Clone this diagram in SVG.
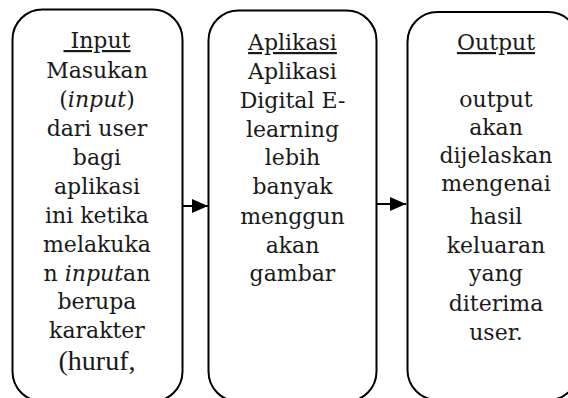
<svg xmlns="http://www.w3.org/2000/svg" width="568" height="398" viewBox="0 0 568 398">
<style>
.box{fill:#fff;stroke:#000;stroke-width:2}
.t{font-family:"DejaVu Serif","Liberation Serif",serif;font-size:22px;fill:#1a1a1a;text-anchor:middle}
.u{text-decoration:underline}
.big{font-family:"Liberation Serif","DejaVu Serif",serif;font-size:28px}
.conn{stroke:#000;stroke-width:2;fill:none}
</style>
<defs>
<marker id="ah" viewBox="0 0 16 14" refX="16" refY="7" markerWidth="16" markerHeight="14" markerUnits="userSpaceOnUse" orient="auto">
<path d="M0,0 L16,7 L0,14 Z" fill="#000"/>
</marker>
</defs>
<rect width="568" height="398" fill="#fff"/>
<g id="connectors">
<line class="conn" x1="182" y1="206" x2="208" y2="206" marker-end="url(#ah)"/>
<line class="conn" x1="377" y1="204" x2="406" y2="204" marker-end="url(#ah)"/>
</g>
<g id="node-input">
<rect class="box" x="12.5" y="9.5" width="170" height="392" rx="30" ry="30"/>
<text class="t" x="97" y="48"><tspan class="u" xml:space="preserve"> Input</tspan></text>
<text class="t" x="97" y="78">Masukan</text>
<text class="t" x="97" y="107">(<tspan font-style="italic">input</tspan>)</text>
<text class="t" x="97" y="136">dari user</text>
<text class="t" x="97" y="165">bagi</text>
<text class="t" x="97" y="194">aplikasi</text>
<text class="t" x="97" y="223">ini ketika</text>
<text class="t" x="97" y="252">melakuka</text>
<text class="t" x="97" y="281">n <tspan font-style="italic">input</tspan>an</text>
<text class="t" x="97" y="309">berupa</text>
<text class="t" x="97" y="338">karakter</text>
<text class="t big" x="97" y="370">(huruf,</text>
</g>
<g id="node-aplikasi">
<rect class="box" x="208.5" y="10.5" width="168" height="391" rx="30" ry="30"/>
<text class="t u" x="292.5" y="50">Aplikasi</text>
<text class="t" x="292.5" y="79">Aplikasi</text>
<text class="t" x="292.5" y="108">Digital E-</text>
<text class="t" x="292.5" y="137">learning</text>
<text class="t" x="292.5" y="165">lebih</text>
<text class="t" x="292.5" y="194">banyak</text>
<text class="t" x="292.5" y="224">menggun</text>
<text class="t" x="292.5" y="253">akan</text>
<text class="t" x="292.5" y="281">gambar</text>
</g>
<g id="node-output">
<rect class="box" x="407.5" y="12" width="171" height="388" rx="30" ry="30"/>
<text class="t u" x="496" y="50">Output</text>
<text class="t" x="496" y="107">output</text>
<text class="t" x="496" y="135">akan</text>
<text class="t" x="496" y="163">dijelaskan</text>
<text class="t" x="496" y="191">mengenai</text>
<text class="t" x="496" y="224">hasil</text>
<text class="t" x="496" y="253">keluaran</text>
<text class="t" x="496" y="281">yang</text>
<text class="t" x="496" y="311">diterima</text>
<text class="t" x="496" y="340">user.</text>
</g>
</svg>
